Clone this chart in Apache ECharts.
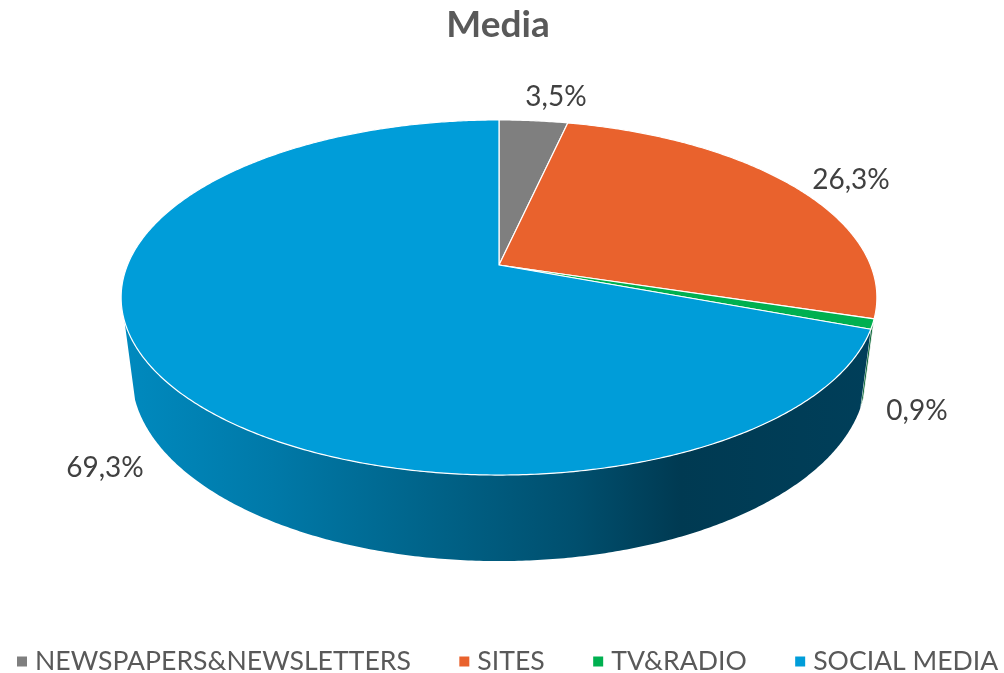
<!DOCTYPE html>
<html>
<head>
<meta charset="utf-8">
<style>html,body{margin:0;padding:0;background:#fff}#c{width:1004px;height:673px}</style>
<script src="https://cdn.jsdelivr.net/npm/echarts@6/dist/echarts.min.js"></script>
</head>
<body>
<div id="c"></div>
<script>
const categories = ['NEWSPAPERS&NEWSLETTERS', 'SITES', 'TV&RADIO', 'SOCIAL MEDIA'];
const values = [3.5, 26.3, 0.9, 69.3];
const colors = ['#7f7f7f', '#e9622d', '#00b050', '#009dd9'];

// label centres, and the perspective model of the disc
const labelCentres = [[556, 97], [851, 180], [917, 411], [105, 468]];
const TOP = { cx: 499, ay: 265, A: 371.5, B: 171.6, k: 0.183 };
const BOTTOM = { cx: 499, ay: 341, A: 361, B: 179.8, k: 0.183 };
const WALL_FROM = 107.28, WALL_TO = 252;

function rim(m, deg) {
  const t = deg * Math.PI / 180, s = Math.sin(t), c = Math.cos(t), d = 1 + m.k * c;
  return [m.cx + m.A * s / d, m.ay - m.B * c / d];
}
function arc(m, a, b) {
  const pts = [], n = Math.max(2, Math.ceil(Math.abs(b - a) * 2));
  for (let i = 0; i <= n; i++) pts.push(rim(m, a + (b - a) * i / n));
  return pts;
}
const wallGradient = {
  type: 'linear', x: 122, y: 0, x2: 877, y2: 0, global: true,
  colorStops: [
    { offset: 0, color: '#008abf' },
    { offset: 0.2, color: '#0079a8' },
    { offset: 0.4, color: '#00648a' },
    { offset: 0.6, color: '#004f6e' },
    { offset: 0.74, color: '#003a52' },
    { offset: 1, color: '#003f5a' }
  ]
};
const wallFills = ['#555555', '#8a3d1c', '#00602c', wallGradient];

let acc = 0;
const series = categories.map((name, i) => {
  const start = acc, end = acc + values[i];
  acc = end;
  return {
    name, type: 'custom', coordinateSystem: 'none', silent: true,
    itemStyle: { color: colors[i] },
    z: 2,
    data: [[start, end, values[i]]],
    renderItem: (params, api) => {
      const a = api.value(0) * 3.6, b = api.value(1) * 3.6;
      const children = [];
      const wa = Math.max(a, WALL_FROM), wb = Math.min(b, WALL_TO);
      if (wb > wa) {
        const pts = arc(TOP, wa, wb).concat(arc(BOTTOM, wb, wa));
        children.push({
          type: 'polygon', shape: { points: pts },
          style: i === 3 ? { fill: wallFills[i] } : { fill: wallFills[i], stroke: '#fff', lineWidth: 0.8 }
        });
      }
      const pts = [[TOP.cx, TOP.ay]].concat(arc(TOP, a, b));
      children.push({
        type: 'polygon', shape: { points: pts },
        style: { fill: colors[i], stroke: '#fff', lineWidth: 1.2, lineJoin: 'round' }
      });
      return { type: 'group', children };
    }
  };
});
// Labels drawn last so no slice covers them
series.push({
  type: 'custom', coordinateSystem: 'none', silent: true, z: 5,
  data: values.map((v, i) => [i, v]),
  renderItem: (params, api) => {
    const i = api.value(0);
    return {
      type: 'text', x: labelCentres[i][0], y: labelCentres[i][1],
      style: {
        text: api.value(1).toFixed(1).replace('.', ',') + '%',
        fill: '#404040', font: '28px Lato', align: 'center', verticalAlign: 'middle'
      }
    };
  }
});

const chart = echarts.init(document.getElementById('c'), null, { renderer: 'canvas' });
chart.setOption({
  animation: false,
  backgroundColor: '#fff',
  title: {
    text: 'Media', left: 493, top: 2, textAlign: 'center',
    textStyle: { color: '#595959', fontFamily: 'Lato', fontWeight: 'bold', fontSize: 37 }
  },
  legend: {
    left: 17, top: 648, width: 1000, padding: 0, itemWidth: 10, itemHeight: 10, itemGap: 48.5, icon: 'rect',
    data: categories,
    textStyle: { color: '#595959', fontFamily: 'Lato', fontSize: 26.6, padding: [0, 0, 0, 3] }
  },
  series
});
</script>
</body>
</html>
